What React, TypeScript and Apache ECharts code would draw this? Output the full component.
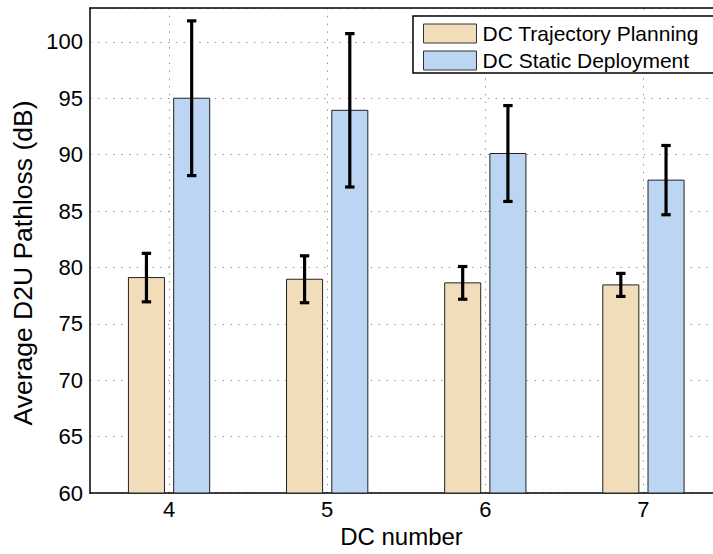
import React, { useEffect, useRef } from "react";
import * as echarts from "echarts";

// DC counts on the x axis
const dcNumbers = [4, 5, 6, 7];
// Average D2U pathloss (dB) and the half-length of each error bar
const trajectoryMean = [79.1, 78.95, 78.63, 78.45];
const trajectoryErr = [2.15, 2.08, 1.45, 1.02];
const staticMean = [95.0, 93.93, 90.1, 87.74];
const staticErr = [6.86, 6.8, 4.25, 3.07];

const seriesNames = ["DC Trajectory Planning", "DC Static Deployment"];
const seriesColors = ["#F2DDBA", "#BBD5F2"];
const yTitle = "Average D2U Pathloss (dB)";

const Y_MIN = 60;
const Y_MAX = 103;
const X_MIN = 3.5;
const X_MAX = 7.44;
const BAR_W = 0.228; // bar width in x-axis units
const BAR_OFFSET = 0.143; // distance of each bar centre from the tick
const FONT = "Liberation Sans, Arial, Helvetica, sans-serif";

function makeRenderer(offset: number, color: string) {
  return (params: any, api: any) => {
    const x = api.value(0) + offset;
    const mean = api.value(1);
    const err = api.value(2);
    const topLeft = api.coord([x - BAR_W / 2, mean]);
    const bottomRight = api.coord([x + BAR_W / 2, Y_MIN]);
    const hi = api.coord([x, mean + err]);
    const lo = api.coord([x, mean - err]);
    const cap = 4.7;
    const errStyle = { stroke: "#000", lineWidth: 3.2 };
    return {
      type: "group",
      children: [
        {
          type: "rect",
          shape: {
            x: topLeft[0],
            y: topLeft[1],
            width: bottomRight[0] - topLeft[0],
            height: bottomRight[1] - topLeft[1],
          },
          style: { fill: color, stroke: "#222", lineWidth: 1 },
        },
        {
          type: "line",
          shape: { x1: hi[0], y1: hi[1], x2: lo[0], y2: lo[1] },
          style: errStyle,
        },
        {
          type: "line",
          shape: { x1: hi[0] - cap, y1: hi[1], x2: hi[0] + cap, y2: hi[1] },
          style: errStyle,
        },
        {
          type: "line",
          shape: { x1: lo[0] - cap, y1: lo[1], x2: lo[0] + cap, y2: lo[1] },
          style: errStyle,
        },
      ],
    };
  };
}

export default function App() {
  const ref = useRef<HTMLDivElement>(null);

  useEffect(() => {
    document.body.style.margin = "0";
    if (!ref.current) return;
    const chart = echarts.init(ref.current, null, { renderer: "svg" });

    const gridLine = {
      show: true,
      lineStyle: { color: "#999", width: 1, type: [1.5, 6.3] as any },
    };

    chart.setOption({
      animation: false,
      backgroundColor: "#fff",
      textStyle: { fontFamily: FONT },
      grid: { left: 90, top: 8, right: 0, bottom: 61, containLabel: false },
      xAxis: [
        {
          type: "value",
          min: X_MIN,
          max: X_MAX,
          name: "DC number",
          nameLocation: "middle",
          nameGap: 31,
          nameTextStyle: { fontSize: 24, color: "#000", fontFamily: FONT },
          axisLine: { show: true, onZero: false, lineStyle: { color: "#000", width: 1.5 } },
          axisTick: { show: false, customValues: dcNumbers },
          axisLabel: {
            customValues: dcNumbers,
            fontSize: 22,
            color: "#000",
            margin: 5,
            fontFamily: FONT,
          },
          splitLine: gridLine,
        },
        {
          type: "value",
          position: "top",
          min: X_MIN,
          max: X_MAX,
          axisLine: { show: true, onZero: false, lineStyle: { color: "#000", width: 1.5 } },
          axisTick: { show: false },
          axisLabel: { show: false },
          splitLine: { show: false },
        },
      ],
      yAxis: {
        type: "value",
        min: Y_MIN,
        max: Y_MAX,
        interval: 5,
        axisLine: { show: true, lineStyle: { color: "#000", width: 1.5 } },
        axisTick: { show: false },
        axisLabel: {
          fontSize: 22,
          color: "#000",
          margin: 7,
          showMaxLabel: false,
          fontFamily: FONT,
        },
        splitLine: gridLine,
      },
      legend: {
        left: 413,
        top: 16,
        orient: "vertical",
        padding: [7, 10, 5, 10],
        itemWidth: 53,
        itemHeight: 19,
        itemGap: 6,
        z: 20,
        textStyle: { fontSize: 21, color: "#000", fontFamily: FONT, padding: [0, 0, 0, 1] },
        data: seriesNames.map((name, i) => ({
          name,
          icon: "rect",
          itemStyle: { color: seriesColors[i], borderColor: "#333", borderWidth: 1 },
        })),
      },
      graphic: [
        {
          type: "rect",
          z: 10,
          shape: { x: 413, y: 16, width: 320, height: 57 },
          style: { fill: "#fff", stroke: "#000", lineWidth: 1.5 },
        },
        {
          type: "text",
          x: 23,
          y: 263,
          rotation: Math.PI / 2,
          style: {
            text: yTitle,
            fontSize: 26.5,
            fontFamily: FONT,
            fill: "#000",
            align: "center",
            verticalAlign: "middle",
          },
        },
      ],
      series: [
        {
          name: seriesNames[0],
          type: "custom",
          itemStyle: { color: seriesColors[0] },
          renderItem: makeRenderer(-BAR_OFFSET, seriesColors[0]),
          encode: { x: 0, y: 1 },
          data: dcNumbers.map((d, i) => [d, trajectoryMean[i], trajectoryErr[i]]),
        },
        {
          name: seriesNames[1],
          type: "custom",
          itemStyle: { color: seriesColors[1] },
          renderItem: makeRenderer(BAR_OFFSET, seriesColors[1]),
          encode: { x: 0, y: 1 },
          data: dcNumbers.map((d, i) => [d, staticMean[i], staticErr[i]]),
        },
      ],
    });

    return () => chart.dispose();
  }, []);

  return <div ref={ref} style={{ width: 713, height: 554 }} />;
}
